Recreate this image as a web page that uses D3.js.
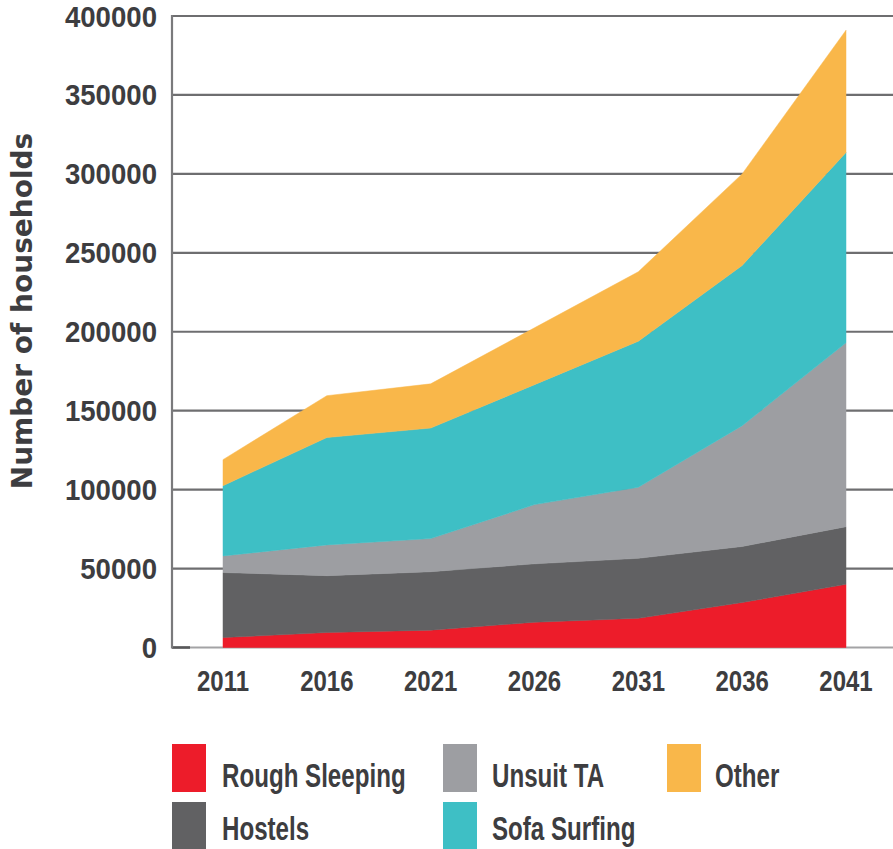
<!DOCTYPE html>
<html>
<head>
<meta charset="utf-8">
<script src="https://cdn.jsdelivr.net/npm/d3@7/dist/d3.min.js"></script>
<style>
  html, body { margin: 0; padding: 0; background: #fff; }
  svg { display: block; }
</style>
</head>
<body>
<div id="chart"></div>
<script>
// data (households per category, stacked bottom -> top)
var years = [2011, 2016, 2021, 2026, 2031, 2036, 2041];
var roughSleeping = [6300, 9500, 11000, 16000, 18500, 28500, 40000];
var hostels = [41200, 36000, 37000, 37000, 38000, 35500, 36500];
var unsuitTA = [10500, 19500, 21000, 37500, 45000, 76500, 116500];
var sofaSurfing = [44500, 68000, 70000, 76000, 92500, 101500, 120500];
var other = [16500, 26500, 28000, 36000, 44000, 58000, 77500];
var seriesNames = ["Rough Sleeping", "Hostels", "Unsuit TA", "Sofa Surfing", "Other"];
var yTicks = [0, 50000, 100000, 150000, 200000, 250000, 300000, 350000, 400000];

var colors = {
  "Rough Sleeping": "#ed1c2a",
  "Hostels": "#616163",
  "Unsuit TA": "#9d9ea2",
  "Sofa Surfing": "#3ebfc5",
  "Other": "#f9b74a"
};

var W = 893, H = 849;
var svg = d3.select("#chart").append("svg").attr("width", W).attr("height", H);

var rows = years.map(function(y, i){
  return {
    year: y,
    "Rough Sleeping": roughSleeping[i],
    "Hostels": hostels[i],
    "Unsuit TA": unsuitTA[i],
    "Sofa Surfing": sofaSurfing[i],
    "Other": other[i]
  };
});

var x = d3.scaleLinear().domain([2011, 2041]).range([223, 846]);
var y = d3.scaleLinear().domain([0, 400000]).range([647.5, 16]);
var axisX = 172, rightEdge = 893;

var textCol = "#3d3d40";

// gridlines (behind the areas)
svg.append("g").selectAll("line")
  .data(yTicks.filter(function(d){ return d > 0; }))
  .enter().append("line")
  .attr("x1", axisX).attr("x2", rightEdge)
  .attr("y1", function(d){ return y(d); }).attr("y2", function(d){ return y(d); })
  .attr("stroke", "#6e6e70").attr("stroke-width", 2.2);

// baseline
svg.append("line").attr("x1", axisX).attr("x2", rightEdge)
  .attr("y1", y(0)).attr("y2", y(0))
  .attr("stroke", "#a3a3a5").attr("stroke-width", 2.2);
svg.append("line").attr("x1", axisX).attr("x2", 190)
  .attr("y1", y(0)).attr("y2", y(0))
  .attr("stroke", "#58585a").attr("stroke-width", 2.6);

// y axis line
svg.append("line").attr("x1", axisX).attr("x2", axisX)
  .attr("y1", y(400000) - 1).attr("y2", y(0) + 1)
  .attr("stroke", "#7a7a7c").attr("stroke-width", 2.2);

// stacked areas
var stack = d3.stack().keys(seriesNames);
var layers = stack(rows);
var area = d3.area()
  .x(function(d){ return x(d.data.year); })
  .y0(function(d){ return y(d[0]); })
  .y1(function(d){ return y(d[1]); });

svg.append("g").selectAll("path")
  .data(layers)
  .enter().append("path")
  .attr("d", area)
  .attr("fill", function(d){ return colors[d.key]; })
  .attr("stroke", function(d){ return colors[d.key]; })
  .attr("stroke-width", 0.5);

// squeezed text helper (the source font is a condensed face)
function label(g, txt, tx, ty, size, sx, anchor, family){
  return g.append("text")
    .attr("transform", "translate(" + tx + "," + ty + ") scale(" + sx + ",1)")
    .attr("text-anchor", anchor)
    .attr("font-family", family || "'Liberation Sans', Arial, sans-serif")
    .attr("font-weight", "bold")
    .attr("font-size", size)
    .attr("fill", textCol)
    .text(txt);
}

// y tick labels
var gy = svg.append("g");
yTicks.forEach(function(t){
  label(gy, String(t), 157, y(t) + 10.5, 30, 0.92, "end");
});

// x tick labels
var gx = svg.append("g");
years.forEach(function(yr){
  label(gx, String(yr), x(yr), 691, 30, 0.8, "middle");
});

// y axis title
svg.append("text")
  .attr("transform", "translate(32,311) rotate(-90)")
  .attr("text-anchor", "middle")
  .attr("font-family", "'DejaVu Sans', sans-serif")
  .attr("font-weight", "bold")
  .attr("font-size", 28)
  .attr("fill", textCol)
  .text("Number of households");

// legend
var legendItems = [
  {name: "Rough Sleeping", sx: 172, tx: 222, top: 744, base: 787},
  {name: "Unsuit TA", sx: 443, tx: 492, top: 744, base: 787},
  {name: "Other", sx: 667, tx: 715, top: 744, base: 787},
  {name: "Hostels", sx: 172, tx: 222, top: 802, base: 840},
  {name: "Sofa Surfing", sx: 443, tx: 492, top: 802, base: 840}
];
var gl = svg.append("g");
legendItems.forEach(function(it){
  gl.append("rect")
    .attr("x", it.sx).attr("y", it.top)
    .attr("width", 34).attr("height", 48)
    .attr("fill", colors[it.name]);
  label(gl, it.name, it.tx, it.base, 34, 0.71, "start");
});
</script>
</body>
</html>
